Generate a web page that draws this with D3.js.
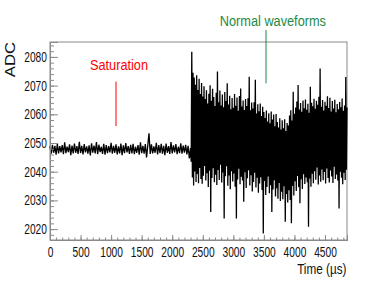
<!DOCTYPE html>
<html>
<head>
<meta charset="utf-8">
<script src="https://cdn.jsdelivr.net/npm/d3@7"></script>
<style>
  body { margin: 0; background: #fff; }
  text { font-family: "Liberation Sans", Arial, Helvetica, sans-serif; }
</style>
</head>
<body>
<div id="vis"></div>
<script>
// ---- data ----
// saturated part: one sample every 20 us from t = 0
const satStep = 20;
const satAdc = [
  2048.8, 2046.3, 2049.4, 2046.6, 2049.0, 2045.9, 2049.7, 2046.4, 2048.9, 2046.7,
  2049.3, 2046.1, 2050.2, 2046.5, 2048.7, 2046.8, 2049.5, 2045.8, 2049.1, 2046.4,
  2049.8, 2046.6, 2048.9, 2046.2, 2050.4, 2046.5, 2049.0, 2046.0, 2049.6, 2046.7,
  2048.8, 2046.3, 2049.2, 2045.7, 2049.9, 2046.6, 2049.1, 2046.4, 2050.3, 2046.1,
  2049.4, 2046.8, 2048.7, 2046.2, 2049.7, 2045.9, 2049.3, 2046.5, 2048.9, 2046.7,
  2050.1, 2046.3, 2049.0, 2046.6, 2049.5, 2046.0, 2048.8, 2046.4, 2049.8, 2045.8,
  2049.2, 2046.5, 2050.0, 2046.7, 2048.9, 2046.2, 2049.4, 2046.4, 2049.7, 2046.1,
  2048.7, 2046.6, 2049.3, 2045.9, 2050.2, 2046.5, 2049.0, 2046.3, 2049.6, 2045.0,
  2049.1, 2053.4, 2046.2, 2049.5, 2046.4, 2048.8, 2046.6, 2050.1, 2046.0, 2049.3,
  2046.5, 2049.7, 2046.3, 2049.0, 2045.8, 2049.8, 2046.6, 2048.9, 2046.2, 2050.3,
  2046.4, 2049.2, 2046.7, 2049.6, 2046.1, 2048.7, 2046.5, 2049.9, 2046.3, 2049.1,
  2046.6, 2049.4, 2046.0, 2049.0, 2044.6, 2048.2
];

// normal waveforms: one sample every 10 us from t = 2310
const waveStart = 2310;
const waveStep = 10;
const waveAdc = [
  2043.5, 2081.8, 2038.0, 2074.5, 2035.2, 2072.8, 2040.1, 2070.3, 2036.4, 2073.6,
  2039.2, 2068.5, 2036.0, 2072.4, 2041.3, 2067.1, 2037.5, 2070.9, 2035.8, 2066.2,
  2038.6, 2069.8, 2042.0, 2065.3, 2036.9, 2068.4, 2039.5, 2063.8, 2034.7, 2067.2,
  2040.3, 2070.1, 2026.0, 2064.7, 2037.8, 2068.9, 2041.2, 2066.0, 2036.3, 2062.9,
  2038.9, 2067.5, 2035.4, 2074.9, 2040.6, 2064.2, 2037.1, 2068.3, 2042.4, 2063.1,
  2036.2, 2066.9, 2039.7, 2062.5, 2023.7, 2067.8, 2038.4, 2064.6, 2041.9, 2070.8,
  2035.1, 2063.4, 2038.7, 2066.5, 2033.9, 2061.8, 2040.2, 2065.7, 2036.6, 2062.3,
  2039.4, 2067.1, 2034.8, 2063.0, 2023.7, 2065.9, 2037.3, 2061.2, 2041.0, 2066.4,
  2035.6, 2069.0, 2038.2, 2062.7, 2036.9, 2064.8, 2029.5, 2061.5, 2039.8, 2065.3,
  2034.3, 2062.9, 2037.7, 2065.6, 2040.5, 2073.1, 2035.2, 2061.4, 2038.8, 2064.1,
  2033.1, 2062.0, 2036.4, 2064.2, 2039.6, 2072.0, 2034.5, 2060.3, 2037.9, 2063.5,
  2032.7, 2061.1, 2035.9, 2063.8, 2038.1, 2059.4, 2033.6, 2062.6, 2018.5, 2060.8,
  2036.8, 2058.7, 2031.9, 2061.3, 2034.7, 2057.5, 2038.3, 2060.4, 2032.5, 2056.9,
  2035.3, 2061.0, 2026.0, 2058.2, 2033.8, 2059.9, 2037.0, 2055.8, 2031.4, 2060.1,
  2034.2, 2057.3, 2030.6, 2055.4, 2036.1, 2058.6, 2029.8, 2054.7, 2033.0, 2057.9,
  2030.4, 2055.1, 2034.9, 2058.3, 2022.6, 2054.2, 2032.2, 2057.0, 2029.3, 2056.1,
  2033.5, 2059.6, 2030.1, 2061.4, 2022.0, 2057.8, 2035.0, 2067.9, 2031.7, 2060.2,
  2036.7, 2062.4, 2033.3, 2064.5, 2038.5, 2070.2, 2034.6, 2061.7, 2029.0, 2063.9,
  2037.4, 2060.9, 2034.0, 2064.8, 2039.1, 2062.1, 2035.7, 2065.2, 2038.0, 2061.6,
  2036.3, 2063.7, 2020.8, 2060.5, 2037.6, 2069.6, 2034.8, 2064.0, 2039.3, 2062.8,
  2036.0, 2065.4, 2040.2, 2061.9, 2037.2, 2064.7, 2041.5, 2063.3, 2035.5, 2066.1,
  2038.7, 2076.0, 2036.5, 2062.6, 2040.8, 2065.0, 2037.0, 2061.3, 2039.9, 2064.4,
  2035.9, 2063.0, 2041.1, 2066.3, 2037.8, 2062.2, 2036.2, 2065.8, 2040.4, 2061.0,
  2038.3, 2064.6, 2036.1, 2062.0, 2041.7, 2065.1, 2037.5, 2060.7, 2039.0, 2063.6,
  2036.9, 2061.8, 2027.2, 2064.3, 2040.0, 2062.5, 2037.9, 2065.5, 2035.6, 2061.2,
  2039.6, 2063.1, 2037.1, 2073.0, 2040.7, 2062.4
];

const xTicks = [0, 500, 1000, 1500, 2000, 2500, 3000, 3500, 4000, 4500];
const yTicks = [2020, 2030, 2040, 2050, 2060, 2070, 2080];

// annotations in data coordinates: [time, adc]
const notes = [
  { text: "Saturation", color: "#ff0000", label: [1129, 2075.5], line: [1080, 2071.4, 2055.9] },
  { text: "Normal waveforms", color: "#1e8a46", label: [3647, 2090.8], line: [3535, 2089.4, 2070.8] }
];

// ---- chart ----
const svg = d3.select("#vis")
    .append("svg")
    .attr("width", 366)
    .attr("height", 288);

const x = d3.scaleLinear()
    .domain([0, 4860])
    .range([50, 347]);

const y = d3.scaleLinear()
    .domain([2016.2, 2085.2])
    .range([240, 42]);

const frameColor = "#8a8a8a";

// frame
svg.append("rect")
    .attr("x", x.range()[0])
    .attr("y", y.range()[1])
    .attr("width", x.range()[1] - x.range()[0])
    .attr("height", y.range()[0] - y.range()[1])
    .attr("fill", "none")
    .attr("stroke", frameColor)
    .attr("stroke-width", 1);

// waveform
const points = satAdc.map((v, i) => [i * satStep, v])
    .concat(waveAdc.map((v, i) => [waveStart + i * waveStep, v]));

svg.append("path")
    .datum(points)
    .attr("fill", "none")
    .attr("stroke", "#000")
    .attr("stroke-width", 1.3)
    .attr("stroke-linejoin", "miter")
    .attr("d", d3.line().x(d => x(d[0])).y(d => y(d[1])));

// x axis (ticks inside, ROOT style)
const xMinor = svg.append("g")
    .attr("transform", `translate(0,${y.range()[0]})`)
    .call(d3.axisBottom(x).tickValues(d3.range(0, 4861, 100)).tickSize(-2.5).tickFormat(""));

const xAxis = svg.append("g")
    .attr("transform", `translate(0,${y.range()[0]})`)
    .call(d3.axisBottom(x).tickValues(xTicks).tickSize(-5).tickPadding(7).tickFormat(d3.format("d")));

// y axis
const yMinor = svg.append("g")
    .attr("transform", `translate(${x.range()[0]},0)`)
    .call(d3.axisLeft(y).tickValues(d3.range(2018, 2085, 2)).tickSize(-4).tickFormat(""));

const yAxis = svg.append("g")
    .attr("transform", `translate(${x.range()[0]},0)`)
    .call(d3.axisLeft(y).tickValues(yTicks).tickSize(-8).tickFormat(d3.format("d")));

[xMinor, xAxis, yMinor, yAxis].forEach(g => {
    g.select(".domain").attr("stroke", frameColor);
    g.selectAll(".tick line").attr("stroke", frameColor);
});

xAxis.selectAll("text")
    .attr("font-size", 14)
    .attr("fill", "#111")
    .attr("transform", "scale(0.73,1)");

yAxis.selectAll("text")
    .attr("font-size", 14)
    .attr("fill", "#111")
    .attr("x", -4.2)
    .attr("transform", "scale(0.73,1)");

// axis titles
svg.append("text")
    .attr("transform", `translate(346.5,274) scale(0.84,1)`)
    .attr("text-anchor", "end")
    .attr("font-size", 14)
    .attr("fill", "#111")
    .text("Time (µs)");

svg.append("text")
    .attr("transform", `translate(15,42) rotate(-90) scale(1.19,1)`)
    .attr("text-anchor", "end")
    .attr("font-size", 14)
    .attr("fill", "#111")
    .text("ADC");

// annotations
notes.forEach(n => {
    svg.append("line")
        .attr("x1", x(n.line[0]))
        .attr("x2", x(n.line[0]))
        .attr("y1", y(n.line[1]))
        .attr("y2", y(n.line[2]))
        .attr("stroke", n.color)
        .attr("stroke-width", 1);

    svg.append("text")
        .attr("transform", `translate(${x(n.label[0])},${y(n.label[1])}) scale(0.85,1)`)
        .attr("text-anchor", "middle")
        .attr("font-size", 15)
        .attr("fill", n.color)
        .text(n.text);
});
</script>
</body>
</html>
